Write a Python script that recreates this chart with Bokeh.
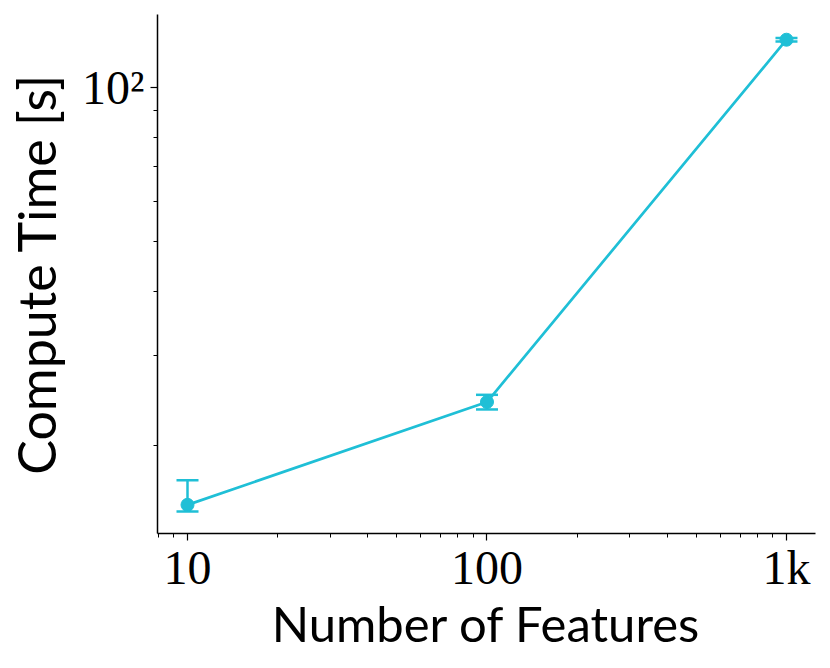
from bokeh.plotting import figure
from bokeh.models import FixedTicker, Whisker, ColumnDataSource, TeeHead
from bokeh.embed import file_html
from bokeh.resources import INLINE

features = [10, 100, 1000]
time_mean = [15.3, 24.3, 124.0]
time_low = [14.85, 23.5, 123.0]
time_high = [17.1, 25.1, 125.0]

x_ticks = [10, 100, 1000]
x_tick_labels = {10: "10", 100: "100", 1000: "1k"}
x_minor = [8, 9, 20, 30, 40, 50, 60, 70, 80, 90, 200, 300, 400, 500, 600, 700, 800, 900]
y_ticks = [100]
y_tick_labels = {100: "10²"}
y_minor = [20, 30, 40, 50, 60, 70, 80, 90]

color = "#1fbfd6"

p = figure(width=822, height=660, x_axis_type="log", y_axis_type="log",
           x_range=(7.94, 1250), y_range=(13.45, 138.9),
           output_backend="svg", toolbar_location=None,
           min_border_left=157, min_border_right=7, min_border_top=14, min_border_bottom=127)
p.frame_width = 658
p.frame_height = 519

src = ColumnDataSource(dict(x=features, y=time_mean, lo=time_low, hi=time_high))

p.add_layout(Whisker(source=src, base="x", lower="lo", upper="hi", dimension="height",
                     line_color=color, line_width=2.5,
                     lower_head=TeeHead(size=22, line_color=color, line_width=2.5),
                     upper_head=TeeHead(size=22, line_color=color, line_width=2.5)))
p.line("x", "y", source=src, line_color=color, line_width=2.7)
p.scatter("x", "y", source=src, size=13, fill_color=color, line_color=color)

p.grid.visible = False
p.outline_line_color = None

for ax in (p.xaxis[0], p.yaxis[0]):
    ax.axis_line_color = "black"
    ax.axis_line_width = 1.5
    ax.major_tick_line_color = "black"
    ax.minor_tick_line_color = "black"
    ax.major_tick_line_width = 1.2
    ax.minor_tick_line_width = 1.0
    ax.major_tick_in = 0
    ax.major_tick_out = 7
    ax.minor_tick_in = 0
    ax.minor_tick_out = 4
    ax.major_label_text_font = "Liberation Serif"
    ax.major_label_text_font_size = "48px"
    ax.major_label_text_color = "black"
    ax.axis_label_text_font = "Lato"
    ax.axis_label_text_font_style = "normal"
    ax.axis_label_text_color = "black"

p.xaxis[0].ticker = FixedTicker(ticks=x_ticks, minor_ticks=x_minor)
p.xaxis[0].major_label_overrides = x_tick_labels
p.xaxis[0].axis_label = "Number of Features"
p.xaxis[0].axis_label_text_font_size = "49px"
p.xaxis[0].major_label_standoff = 0
p.xaxis[0].axis_label_standoff = -3

p.yaxis[0].ticker = FixedTicker(ticks=y_ticks, minor_ticks=y_minor)
p.yaxis[0].major_label_overrides = y_tick_labels
p.yaxis[0].axis_label = "Compute Time [s]"
p.yaxis[0].axis_label_text_font_size = "52px"
p.yaxis[0].major_label_standoff = 6
p.yaxis[0].axis_label_standoff = 12

open("out.html", "w").write(file_html(p, INLINE))
